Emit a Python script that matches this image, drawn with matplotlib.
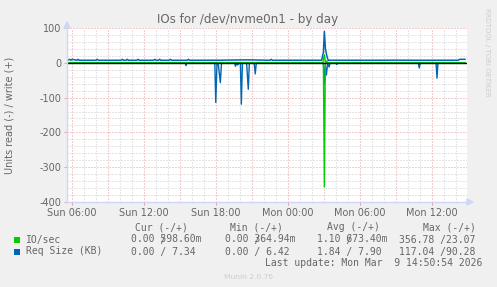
import numpy as np
import matplotlib
matplotlib.use("Agg")
import matplotlib.pyplot as plt
from matplotlib.patches import Polygon, Rectangle

# time axis: hours since Sun 00:00
x_start = 5.58
x_end = 38.92

# IO/sec read (plotted negative)
io_read_t = [5.6, 26.95, 27.03, 27.11, 38.75]
io_read_v = [0.0, 0.0, 356.78, 0.0, 0.0]

# IO/sec write
io_write_t = [5.6, 15.0, 26.9, 27.03, 27.12, 27.22, 27.32, 30.0, 38.75]
io_write_v = [0.5, 0.6, 0.5, 23.07, 2.0, 5.0, 0.6, 0.5, 0.6]

# Req Size read (KB, plotted negative)
req_read_t = [5.6, 15.42, 15.5, 15.58,
              17.9, 17.98, 18.08, 18.2, 18.36, 18.46,
              19.55, 19.62, 19.7, 19.8, 19.95,
              20.03, 20.11, 20.2, 20.55, 20.69, 20.78,
              21.18, 21.27, 21.36,
              26.95, 27.03, 27.12, 27.2, 27.3, 27.42, 27.52,
              27.98, 28.06, 28.14,
              34.86, 34.94, 35.02,
              36.34, 36.42, 36.5, 38.75]
req_read_v = [0, 0, 8, 0,
              0, 114, 4, 6, 57, 0,
              0, 10, 3, 6, 0,
              0, 119, 2, 0, 76, 0,
              0, 32, 0,
              0, 60, 10, 35, 2, 12, 0,
              0, 5, 0,
              0, 15, 0,
              0, 44, 0, 0]

# Req Size write (KB)
req_w_t = [5.6, 5.8, 5.9, 6.0, 6.4, 6.5, 6.6, 8.0, 8.1, 8.2,
           10.1, 10.2, 10.3, 10.5, 10.6, 10.7, 11.4, 11.5, 11.6,
           12.8, 12.9, 13.0, 13.2, 13.3, 13.4, 14.1, 14.2, 14.3,
           15.6, 15.7, 15.8, 18.5, 20.5, 22.5, 22.6, 22.7, 24.0,
           26.8, 26.95, 27.03, 27.12, 27.25, 27.35, 27.5,
           29.0, 31.0, 33.0, 35.0, 37.0, 38.2, 38.3, 38.75]
req_w_v = [7.3, 10.0, 7.3, 10.0, 7.3, 10.0, 7.3, 7.3, 10.0, 7.3,
           7.3, 10.0, 7.3, 7.3, 10.0, 7.3, 7.3, 10.0, 7.3,
           7.3, 10.0, 7.3, 7.3, 10.0, 7.3, 7.3, 10.0, 7.3,
           7.3, 10.0, 7.3, 7.5, 8.5, 7.3, 10.0, 7.3, 7.4,
           7.3, 30.0, 90.28, 40.0, 18.0, 7.0, 7.5,
           7.4, 7.3, 7.6, 7.3, 7.4, 7.4, 10.0, 10.0]

xtick_pos = [6, 12, 18, 24, 30, 36]
xtick_labels = ["Sun 06:00", "Sun 12:00", "Sun 18:00", "Mon 00:00", "Mon 06:00", "Mon 12:00"]
ytick_pos = [100, 0, -100, -200, -300, -400]
ytick_labels = ["100", "0", "-100", "-200", "-300", "-400"]

legend_names = ["IO/sec", "Req Size (KB)"]
legend_colors = ["#00CC00", "#0066B3"]
legend_heads = ["Cur (-/+)", "Min (-/+)", "Avg (-/+)", "Max (-/+)"]
row_io = ["0.00 598.60m", "0.00 364.94m", "1.10 673.40m", "356.78 /23.07"]
row_io_slash = ["     /", "     /", "     /", ""]
row_req = ["0.00 / 7.34", "0.00 / 6.42", "1.84 / 7.90", "117.04 /90.28"]

W, H = 497, 287
FONT = "#666666"


def px(x, y):
    return x / W, 1 - y / H


fig = plt.figure(figsize=(W / 100, H / 100), dpi=100, facecolor="#F0F0F0")
ax = fig.add_axes([67 / W, 1 - 202 / H, 400 / W, 174 / H])
ax.set_facecolor("white")
ax.set_xlim(x_start, x_end)
ax.set_ylim(-400, 100)

# grid (dotted, munin style)
dots = (0, (1, 2))
for y in range(-380, 100, 20):
    if y % 100 != 0:
        ax.axhline(y, color="#cccccc", lw=0.72, ls=dots, zorder=1)
for y in [100, -100, -200, -300, -400]:
    ax.axhline(y, color="#e29a9a", lw=0.72, ls=dots, zorder=1)
for h in range(6, 39):
    c = "#e29a9a" if h % 3 == 0 else "#cccccc"
    ax.axvline(h, color=c, lw=0.72, ls=dots, zorder=1)

# series
ax.plot(req_read_t, -np.array(req_read_v), color="#0066B3", lw=1.0, zorder=3)
ax.plot(req_w_t, req_w_v, color="#0066B3", lw=1.1, zorder=3)
ax.plot(io_read_t, -np.array(io_read_v), color="#00CC00", lw=1.0, zorder=4)
ax.plot(io_write_t, io_write_v, color="#00CC00", lw=1.0, zorder=4)
ax.axhline(0, color="black", lw=1.0, zorder=5)

for s in ax.spines.values():
    s.set_visible(False)

ax.set_xticks(xtick_pos)
ax.set_xticklabels(xtick_labels)
ax.set_yticks(ytick_pos)
ax.set_yticklabels(ytick_labels)
ax.tick_params(axis="both", length=2, width=0.6, color="#e29a9a", labelsize=7,
               labelcolor=FONT, pad=2)

# axes with arrows
axis_c = "#CFD6F8"
ax.plot([0, 1.012], [0, 0], transform=ax.transAxes, color=axis_c, lw=1.0, clip_on=False, zorder=6)
ax.plot([0, 0], [0, 1.03], transform=ax.transAxes, color=axis_c, lw=1.0, clip_on=False, zorder=6)
dx, dy = 1 / 400, 1 / 174
ax.add_patch(Polygon([[1.0, -3 * dy], [1.0 + 6 * dx, 0], [1.0, 3 * dy]], closed=True,
                     transform=ax.transAxes, color=axis_c, clip_on=False, zorder=6))
ax.add_patch(Polygon([[-3 * dx, 1.0], [0, 1.0 + 6 * dy], [3 * dx, 1.0]], closed=True,
                     transform=ax.transAxes, color=axis_c, clip_on=False, zorder=6))

# titles
fig.text(*px(248, 19), "IOs for /dev/nvme0n1 - by day", ha="center", va="center",
         fontsize=8.6, color=FONT)
fig.text(*px(10, 115), "Units read (-) / write (+)", rotation=90, ha="center", va="center",
         fontsize=7, color=FONT)
fig.text(*px(487, 52), "RRDTOOL / TOBI OETIKER", rotation=270, ha="center", va="center",
         fontsize=5, color="#cccccc")

# legend
mono = "DejaVu Sans Mono"
head_x = [135, 230, 327, 423]
col_x = [130.7, 225, 317.3, 399]
for hx, t in zip(head_x, legend_heads):
    fig.text(*px(hx, 227), t, ha="left", va="center", fontsize=7, family=mono, color=FONT)
rows_y = [239.5, 251.5]
for ry, name, col in zip(rows_y, legend_names, legend_colors):
    fig.patches.append(Rectangle(px(14, ry + 3), 6 / W, 6 / H, transform=fig.transFigure,
                                 facecolor=col, edgecolor="none"))
    fig.text(*px(26, ry), name, ha="left", va="center", fontsize=7, family=mono, color=FONT)
for cx, t, sl in zip(col_x, row_io, row_io_slash):
    fig.text(*px(cx, rows_y[0]), t, ha="left", va="center", fontsize=7, family=mono, color=FONT)
    if sl:
        fig.text(*px(cx, rows_y[0]), sl, ha="left", va="center", fontsize=7, family=mono, color=FONT)
for cx, t in zip(col_x, row_req):
    fig.text(*px(cx, rows_y[1]), t, ha="left", va="center", fontsize=7, family=mono, color=FONT)
fig.text(*px(482, 263), "Last update: Mon Mar  9 14:50:54 2026", ha="right", va="center",
         fontsize=7, family=mono, color=FONT)
fig.text(*px(248, 277), "Munin 2.0.76", ha="center", va="center", fontsize=5.4, color="#cccccc")

fig.savefig("out.png", dpi=100, facecolor=fig.get_facecolor())
